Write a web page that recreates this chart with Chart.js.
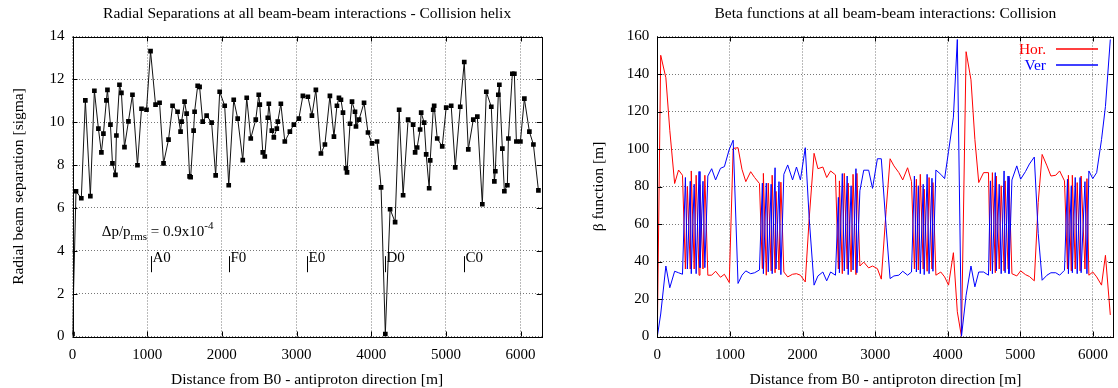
<!DOCTYPE html>
<html>
<head>
<meta charset="utf-8">
<script src="https://cdn.jsdelivr.net/npm/chart.js@4.4.0/dist/chart.umd.min.js"></script>
<style>
    body { margin: 0; background: #fff; }
    #wrap { position: relative; width: 1118px; height: 388px; }
    #sepChart { position: absolute; left: 0; top: 0; }
    #betaChart { position: absolute; left: 560px; top: 0; }
</style>
</head>
<body>
<div id="wrap">
    <canvas id="sepChart" width="560" height="388"></canvas>
    <canvas id="betaChart" width="558" height="388"></canvas>
</div>
<script>
// Posiciones de las interacciones (m desde B0)
var distances = [
    0, 47, 118, 172, 239, 293, 347, 387, 414, 454,
    468, 508, 535, 575, 588, 629, 655, 696, 749, 803,
    870, 924, 991, 1045, 1112, 1166, 1219, 1286, 1340, 1407,
    1447, 1461, 1501, 1528, 1568, 1582, 1622, 1635, 1676, 1702,
    1743, 1796, 1863, 1917, 1971, 2038, 2092, 2159, 2212, 2280,
    2333, 2387, 2454, 2494, 2508, 2548, 2575, 2615, 2629, 2669,
    2696, 2736, 2749, 2790, 2843, 2911, 2964, 3031, 3085, 3152,
    3206, 3259, 3327, 3380, 3447, 3501, 3541, 3568, 3595, 3622,
    3662, 3676, 3716, 3743, 3783, 3796, 3837, 3904, 3957, 4011,
    4078, 4132, 4189, 4253, 4320, 4374, 4427, 4494, 4561, 4588,
    4615, 4655, 4669, 4709, 4736, 4776, 4790, 4830, 4843, 4884,
    4951, 5004, 5071, 5125, 5192, 5246, 5300, 5367, 5421, 5488,
    5541, 5608, 5649, 5662, 5702, 5716, 5756, 5783, 5823, 5837,
    5890, 5917, 5944, 5998, 6051, 6118, 6172, 6239
];

// Separación radial [sigma]
var separations = [
    0.11, 6.78, 6.45, 11.02, 6.55, 11.47, 9.70, 8.59, 9.47, 11.02,
    11.51, 9.89, 8.08, 7.54, 9.38, 11.75, 11.37, 8.84, 10.04, 11.28,
    7.99, 10.63, 10.58, 13.32, 10.82, 10.91, 8.08, 9.19, 10.77, 10.49,
    9.56, 10.03, 10.96, 10.40, 7.47, 7.43, 9.61, 10.49, 11.70, 11.65,
    10.03, 10.31, 9.98, 7.52, 11.42, 10.77, 7.06, 11.05, 10.17, 8.23,
    11.14, 9.24, 10.12, 11.28, 10.82, 8.59, 8.40, 10.21, 10.86, 9.61,
    9.29, 9.70, 10.03, 10.86, 9.10, 9.56, 9.89, 10.17, 11.23, 11.19,
    10.31, 11.51, 8.54, 8.96, 11.23, 9.33, 10.77, 11.14, 11.05, 10.45,
    7.85, 7.66, 9.93, 10.96, 10.49, 9.80, 10.12, 10.91, 9.52, 9.01,
    9.10, 6.96, 0.11, 5.94, 5.34, 10.58, 6.59, 10.12, 9.89, 8.59,
    8.82, 9.66, 10.45, 9.98, 8.50, 6.92, 8.22, 10.58, 10.77, 9.24,
    8.87, 10.68, 10.77, 7.89, 10.72, 12.81, 8.73, 10.12, 10.26, 6.17,
    11.42, 10.72, 7.24, 7.71, 11.28, 11.75, 8.77, 6.78, 7.06, 9.24,
    12.26, 12.26, 9.10, 9.10, 11.10, 9.56, 8.96, 6.82
];

// Funciones beta [m]
var betaHor = [
    0, 150, 138, 110, 81.6, 88.8, 86, 36, 80, 36,
    88.3, 36, 86, 32.7, 81, 36, 86, 32.7, 32.7, 34.8,
    31.6, 33.2, 28.8, 100.3, 100.7, 89.2, 82.6, 87.9, 84.8, 81.6,
    36.2, 87, 32.7, 81.8, 35, 86, 34, 77.4, 35.5, 82.3,
    34.4, 31.8, 33.2, 33.5, 32.7, 29.1, 63, 97.7, 89.5, 90.4,
    84.8, 88.3, 86.2, 36, 83, 33.5, 87, 36, 81.8, 34.5,
    86.5, 33, 87, 37.6, 39.7, 36.6, 37.6, 36.2, 30.6, 67.6,
    94.8, 91, 87.4, 83.5, 90, 82.6, 36, 83.9, 35.5, 86.5,
    36, 78.6, 34.8, 84.8, 36, 82.1, 32.7, 34.4, 31.8, 27.4,
    44.7, 13.2, 0, 151.9, 136.9, 105, 82.1, 87.4, 87.4, 35,
    87.4, 34, 85.6, 36, 80.4, 35, 83, 36, 84.8, 33.5,
    32.3, 35, 33, 32, 29.7, 71.5, 97.1, 91, 85.6, 86,
    88.3, 83, 36, 86, 35, 86, 36, 82.1, 35, 85.6,
    36, 84.2, 32.7, 34.4, 31.8, 27.4, 43.3, 11.5
];
var betaVer = [
    0, 12, 37.6, 26, 34.8, 34, 33.2, 84.8, 36, 82.8,
    33.5, 81.2, 33.5, 88, 36.7, 82.8, 36.7, 85.6, 89.5, 83.5,
    89.7, 90.6, 99.8, 104.7, 28.3, 32.7, 35, 33.5, 34, 35.5,
    81.8, 33.5, 81.8, 34.5, 81.2, 33.5, 90, 36, 82.6, 33,
    86.5, 91.5, 83.5, 90.4, 83.5, 100.7, 63, 27.4, 32.3, 34.4,
    29.7, 34.4, 32.7, 74.2, 34, 86.9, 35, 85.6, 33, 80.4,
    35.5, 89.5, 34, 77.7, 88.7, 88.7, 79, 94.8, 94.8, 58,
    30.9, 32.3, 32.7, 34.8, 32.7, 34.4, 85.6, 34.4, 80.4, 33.5,
    81.2, 33, 86.5, 33.5, 84.4, 34.8, 88.8, 86.5, 84.2, 98.7,
    117, 158.4, 0, 22, 37.6, 26.5, 34.4, 34.4, 32.7, 83,
    33.5, 87.4, 35, 81.2, 33.5, 88.3, 34, 85.6, 33.5, 83.5,
    91, 83.9, 88, 92, 95.7, 55, 30, 32.7, 34, 34,
    32.7, 35.3, 83.9, 33.5, 80.4, 34, 84.8, 33.5, 84.8, 34,
    82.6, 33.5, 88.3, 84.2, 87.4, 105, 122.7, 158.4
];

var xTicks = [0, 1000, 2000, 3000, 4000, 5000, 6000];
var sepTicks = [0, 2, 4, 6, 8, 10, 12, 14];
var betaTicks = [0, 20, 40, 60, 80, 100, 120, 140, 160];

var ipNames = ['A0', 'F0', 'E0', 'D0', 'C0'];
var ipPositions = [1047, 2094, 3142, 4189, 5236];

var serif = "'Liberation Serif', 'DejaVu Serif', serif";

function toPoints(xs, ys) {
    var pts = [];
    for (var i = 0; i < xs.length; i++) {
        pts.push({ x: xs[i], y: ys[i] });
    }
    return pts;
}

function fixedTicks(list) {
    return function(scale) {
        scale.ticks = list.map(function(v) { return { value: v }; });
    };
}

function plainLabel(value) {
    return String(value);
}

// marco, ticks interiores y titulo del panel
var frameBox = {
    id: 'frameBox',
    afterDraw: function(chart, args, opts) {
        var ctx = chart.ctx;
        var a = chart.chartArea;
        var xs = chart.scales.x, ys = chart.scales.y;
        ctx.save();
        ctx.strokeStyle = '#000';
        ctx.lineWidth = 1;
        ctx.beginPath();
        xs.ticks.forEach(function(t) {
            var px = Math.round(xs.getPixelForValue(t.value)) + 0.5;
            ctx.moveTo(px, a.bottom); ctx.lineTo(px, a.bottom - 5);
            ctx.moveTo(px, a.top); ctx.lineTo(px, a.top + 5);
        });
        ys.ticks.forEach(function(t) {
            var py = Math.round(ys.getPixelForValue(t.value)) + 0.5;
            ctx.moveTo(a.left, py); ctx.lineTo(a.left + 5, py);
            ctx.moveTo(a.right, py); ctx.lineTo(a.right - 5, py);
        });
        ctx.stroke();
        ctx.strokeRect(Math.round(a.left) + 0.5, Math.round(a.top) + 0.5,
            Math.round(a.right - a.left), Math.round(a.bottom - a.top));

        ctx.fillStyle = '#000';
        ctx.font = '15.5px ' + serif;
        ctx.textAlign = 'center';
        ctx.textBaseline = 'middle';
        ctx.fillText(opts.text, (a.left + a.right) / 2, 14);
        ctx.restore();
    }
};

// etiquetas A0..C0 y dp/p
var sepNotes = {
    id: 'sepNotes',
    afterDraw: function(chart) {
        var ctx = chart.ctx;
        var xs = chart.scales.x, ys = chart.scales.y;
        ctx.save();
        ctx.strokeStyle = '#000';
        ctx.fillStyle = '#000';
        ctx.lineWidth = 1;
        ctx.font = '15px ' + serif;
        ctx.textAlign = 'left';
        ctx.textBaseline = 'alphabetic';
        for (var i = 0; i < ipNames.length; i++) {
            var px = Math.round(xs.getPixelForValue(ipPositions[i])) + 0.5;
            ctx.beginPath();
            ctx.moveTo(px, ys.getPixelForValue(3.75));
            ctx.lineTo(px, ys.getPixelForValue(3.0));
            ctx.stroke();
            ctx.fillText(ipNames[i], px + 1, ys.getPixelForValue(3.5));
        }

        var x = xs.getPixelForValue(392);
        var y = ys.getPixelForValue(4.68);
        var t1 = '\u0394p/p';
        ctx.fillText(t1, x, y);
        x += ctx.measureText(t1).width;
        ctx.font = '11px ' + serif;
        ctx.fillText('rms', x, y + 4);
        x += ctx.measureText('rms').width;
        ctx.font = '15px ' + serif;
        var t2 = ' = 0.9x10';
        ctx.fillText(t2, x, y);
        x += ctx.measureText(t2).width;
        ctx.font = '11px ' + serif;
        ctx.fillText('-4', x, y - 7);
        ctx.restore();
    }
};

// leyenda estilo gnuplot
var betaLegend = {
    id: 'betaLegend',
    afterDraw: function(chart) {
        var ctx = chart.ctx;
        var entries = [
            { text: 'Hor.', color: '#ff0000', y: 49.5 },
            { text: 'Ver', color: '#0000ff', y: 65.5 }
        ];
        ctx.save();
        ctx.font = '15.5px ' + serif;
        ctx.textAlign = 'right';
        ctx.textBaseline = 'middle';
        entries.forEach(function(e) {
            ctx.fillStyle = e.color;
            ctx.fillText(e.text, 486, e.y);
            ctx.strokeStyle = e.color;
            ctx.lineWidth = 1.3;
            ctx.beginPath();
            ctx.moveTo(496, e.y - 0.5);
            ctx.lineTo(538, e.y - 0.5);
            ctx.stroke();
        });
        ctx.restore();
    }
};

function xScale() {
    return {
        type: 'linear',
        min: 0,
        max: 6283,
        afterBuildTicks: fixedTicks(xTicks),
        afterFit: function(scale) { scale.height = 51.5; },
        ticks: { color: '#000', padding: 10, font: { family: serif, size: 15 }, callback: plainLabel },
        grid: { color: '#777', drawTicks: false },
        border: { display: false, dash: [1, 2] },
        title: {
            display: true,
            text: 'Distance from B0 - antiproton direction [m]',
            color: '#000',
            font: { family: serif, size: 15.5, lineHeight: 1.1 },
            padding: { top: 0, bottom: 0 }
        }
    };
}

Chart.defaults.font.family = serif;

var sepCtx = document.getElementById('sepChart').getContext('2d');
var sepChart = new Chart(sepCtx, {
    type: 'line',
    data: {
        datasets: [{
            label: 'Radial separation',
            data: toPoints(distances, separations),
            borderColor: '#111',
            backgroundColor: '#000',
            borderWidth: 1,
            pointStyle: 'rect',
            pointRadius: 3.3,
            pointBorderWidth: 0,
            tension: 0
        }]
    },
    options: {
        responsive: false,
        animation: false,
        layout: { padding: { top: 36.5, right: 18.3, left: 0, bottom: 0 } },
        plugins: {
            legend: { display: false },
            tooltip: { enabled: false },
            frameBox: { text: 'Radial Separations at all beam-beam interactions - Collision helix' }
        },
        scales: {
            x: xScale(),
            y: {
                type: 'linear',
                min: 0,
                max: 14,
                afterBuildTicks: fixedTicks(sepTicks),
                afterFit: function(scale) { scale.width = 72.5; },
                ticks: { color: '#000', padding: 8, font: { family: serif, size: 15 }, callback: plainLabel },
                grid: { color: '#777', drawTicks: false },
                border: { display: false, dash: [1, 2] },
                title: {
                    display: true,
                    text: 'Radial beam separation [sigma]',
                    color: '#000',
                    font: { family: serif, size: 15.5, lineHeight: 1.1 },
                    padding: { top: 10, bottom: 0 }
                }
            }
        }
    },
    plugins: [frameBox, sepNotes]
});

var betaCtx = document.getElementById('betaChart').getContext('2d');
var betaChart = new Chart(betaCtx, {
    type: 'line',
    data: {
        datasets: [{
            label: 'Ver',
            data: toPoints(distances, betaVer),
            borderColor: '#0000ff',
            borderWidth: 1,
            pointRadius: 0,
            tension: 0,
            order: 0
        }, {
            label: 'Hor.',
            data: toPoints(distances, betaHor),
            borderColor: '#ff0000',
            borderWidth: 1,
            pointRadius: 0,
            tension: 0,
            order: 1
        }]
    },
    options: {
        responsive: false,
        animation: false,
        layout: { padding: { top: 36.5, right: 1, left: 0, bottom: 0 } },
        plugins: {
            legend: { display: false },
            tooltip: { enabled: false },
            frameBox: { text: 'Beta functions at all beam-beam interactions: Collision' }
        },
        scales: {
            x: xScale(),
            y: {
                type: 'linear',
                min: 0,
                max: 160,
                afterBuildTicks: fixedTicks(betaTicks),
                afterFit: function(scale) { scale.width = 97.3; },
                ticks: { color: '#000', padding: 8, font: { family: serif, size: 15 }, callback: plainLabel },
                grid: { color: '#777', drawTicks: false },
                border: { display: false, dash: [1, 2] },
                title: {
                    display: true,
                    text: '\u03b2 function [m]',
                    color: '#000',
                    font: { family: serif, size: 15.5, lineHeight: 1.1 },
                    padding: { top: 30, bottom: 0 }
                }
            }
        }
    },
    plugins: [frameBox, betaLegend]
});
</script>
</body>
</html>
